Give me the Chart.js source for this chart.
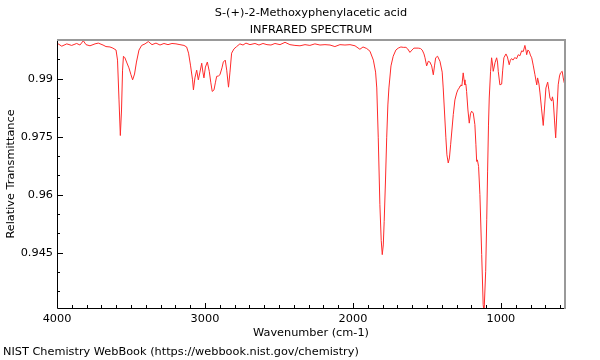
<!DOCTYPE html>
<html>
<head>
<meta charset="utf-8">
<script src="https://cdn.jsdelivr.net/npm/chart.js@4"></script>
<style>
  html, body { margin: 0; padding: 0; background: #fff; }
</style>
</head>
<body>
<canvas id="ir-chart" width="600" height="360"></canvas>
<script>
const titleLines = ['S-(+)-2-Methoxyphenylacetic acid', 'INFRARED SPECTRUM']
const footerText = 'NIST Chemistry WebBook (https://webbook.nist.gov/chemistry)'

// wavenumber (cm-1)
const wavenumber = [
    4000, 3968, 3934, 3901, 3867, 3845, 3822, 3804, 3777, 3743,
    3721, 3689, 3669, 3642, 3622, 3601, 3591, 3581, 3572, 3564,
    3557, 3551, 3541, 3530, 3514, 3500, 3489, 3476, 3463, 3446,
    3428, 3405, 3383, 3358, 3331, 3304, 3277, 3250, 3223, 3196,
    3169, 3142, 3124, 3111, 3098, 3084, 3078, 3068, 3056, 3045,
    3034, 3022, 3014, 3007, 2997, 2984, 2971, 2961, 2951, 2939,
    2929, 2921, 2909, 2899, 2885, 2876, 2863, 2853, 2841, 2831,
    2820, 2804, 2786, 2764, 2743, 2723, 2696, 2662, 2635, 2608,
    2581, 2554, 2527, 2493, 2459, 2426, 2392, 2358, 2324, 2291,
    2257, 2223, 2189, 2155, 2122, 2088, 2054, 2020, 1986, 1953,
    1932, 1907, 1885, 1862, 1847, 1839, 1829, 1818, 1809, 1802,
    1795, 1789, 1780, 1772, 1764, 1757, 1743, 1728, 1710, 1694,
    1676, 1660, 1642, 1630, 1615, 1601, 1588, 1559, 1544, 1532,
    1520, 1513, 1502, 1491, 1480, 1468, 1457, 1449, 1441, 1428,
    1412, 1397, 1390, 1382, 1372, 1365, 1356, 1348, 1340, 1322,
    1311, 1299, 1291, 1282, 1276, 1270, 1264, 1255, 1249, 1243,
    1237, 1232, 1223, 1214, 1206, 1198, 1187, 1176, 1169, 1164,
    1159, 1151, 1142, 1130, 1120, 1114, 1103, 1096, 1090, 1084,
    1079, 1070, 1063, 1057, 1052, 1040, 1029, 1023, 1018, 1007,
    995, 988, 980, 966, 956, 944, 936, 928, 919, 905,
    895, 883, 872, 860, 849, 838, 831, 826, 818, 809,
    801, 792, 781, 770, 758, 752, 743, 736, 726, 714,
    704, 696, 684, 676, 669, 657, 652, 646, 638, 630,
    621, 613, 604, 597, 586, 579, 572, 562
]

const transmittance = [
    0.9992, 0.9984, 0.9990, 0.9986, 0.9991, 0.9987, 0.9998, 0.9988, 0.9985, 0.9990,
    0.9992, 0.9987, 0.9983, 0.9982, 0.9979, 0.9974, 0.9948, 0.9845, 0.9753, 0.9819,
    0.9922, 0.9958, 0.9954, 0.9943, 0.9928, 0.9910, 0.9897, 0.9912, 0.9943, 0.9974,
    0.9986, 0.9990, 0.9996, 0.9988, 0.9992, 0.9987, 0.9991, 0.9988, 0.9991, 0.9990,
    0.9988, 0.9986, 0.9982, 0.9966, 0.9935, 0.9897, 0.9871, 0.9902, 0.9922, 0.9897,
    0.9917, 0.9940, 0.9917, 0.9902, 0.9930, 0.9943, 0.9919, 0.9891, 0.9867, 0.9871,
    0.9891, 0.9906, 0.9907, 0.9910, 0.9928, 0.9943, 0.9948, 0.9922, 0.9878, 0.9917,
    0.9966, 0.9977, 0.9983, 0.9990, 0.9987, 0.9992, 0.9988, 0.9991, 0.9987, 0.9991,
    0.9988, 0.9987, 0.9991, 0.9988, 0.9994, 0.9988, 0.9986, 0.9985, 0.9988, 0.9986,
    0.9990, 0.9987, 0.9988, 0.9987, 0.9983, 0.9988, 0.9987, 0.9988, 0.9985, 0.9976,
    0.9982, 0.9978, 0.9971, 0.9948, 0.9917, 0.9876, 0.9747, 0.9574, 0.9482, 0.9445,
    0.9470, 0.9531, 0.9638, 0.9747, 0.9832, 0.9876, 0.9933, 0.9958, 0.9974, 0.9979,
    0.9982, 0.9981, 0.9981, 0.9977, 0.9968, 0.9974, 0.9979, 0.9979, 0.9978, 0.9974,
    0.9964, 0.9954, 0.9933, 0.9945, 0.9943, 0.9933, 0.9910, 0.9933, 0.9954, 0.9958,
    0.9945, 0.9917, 0.9876, 0.9819, 0.9747, 0.9703, 0.9682, 0.9695, 0.9729, 0.9807,
    0.9845, 0.9863, 0.9871, 0.9876, 0.9881, 0.9884, 0.9881, 0.9915, 0.9897, 0.9884,
    0.9886, 0.9867, 0.9819, 0.9785, 0.9809, 0.9816, 0.9811, 0.9781, 0.9729, 0.9686,
    0.9690, 0.9673, 0.9600, 0.9445, 0.9316, 0.9297, 0.9402, 0.9535, 0.9661, 0.9780,
    0.9850, 0.9919, 0.9954, 0.9938, 0.9919, 0.9941, 0.9954, 0.9943, 0.9919, 0.9884,
    0.9886, 0.9922, 0.9954, 0.9964, 0.9956, 0.9936, 0.9948, 0.9952, 0.9948, 0.9955,
    0.9951, 0.9962, 0.9959, 0.9972, 0.9970, 0.9986, 0.9974, 0.9962, 0.9974, 0.9971,
    0.9961, 0.9954, 0.9933, 0.9910, 0.9884, 0.9902, 0.9886, 0.9863, 0.9824, 0.9779,
    0.9832, 0.9876, 0.9891, 0.9871, 0.9850, 0.9842, 0.9853, 0.9842, 0.9793, 0.9747,
    0.9819, 0.9884, 0.9907, 0.9915, 0.9919, 0.9902, 0.9889, 0.9893
]

const xTickLabels = [4000, 3000, 2000, 1000]
const yTickLabels = [0.99, 0.975, 0.96, 0.945]

const fontFamily = "'DejaVu Sans', sans-serif"
const fontSize = 11.3

Chart.defaults.font.family = fontFamily
Chart.defaults.font.size = fontSize
Chart.defaults.color = '#000'

// inward tick marks, frame, title and footer
const frameAndTicks = {
    id: 'frameAndTicks',
    afterDatasetsDraw(chart) {
        const ctx = chart.ctx
        const a = chart.chartArea
        const x = chart.scales.x
        const y = chart.scales.y
        ctx.save()
        ctx.lineWidth = 1
        ctx.strokeStyle = '#000'
        ctx.beginPath()
        for (let w = 600; w <= 4000; w += 100) {
            const px = Math.round(x.getPixelForValue(w)) + 0.5
            const len = w % 1000 === 0 ? 5 : 3
            ctx.moveTo(px, a.bottom)
            ctx.lineTo(px, a.bottom - len)
        }
        for (let k = 0; k <= 13; k++) {
            const v = 0.935 + k * 0.005
            if (v > y.max) continue
            const py = Math.round(y.getPixelForValue(v)) + 0.5
            const major = yTickLabels.some(t => Math.abs(t - v) < 1e-6)
            ctx.moveTo(a.left, py)
            ctx.lineTo(a.left + (major ? 6 : 3), py)
        }
        ctx.stroke()

        // left and bottom axis lines
        ctx.beginPath()
        ctx.moveTo(a.left + 0.5, a.top)
        ctx.lineTo(a.left + 0.5, a.bottom + 0.5)
        ctx.lineTo(a.right, a.bottom + 0.5)
        ctx.stroke()

        // top and right in grey
        ctx.strokeStyle = '#999'
        ctx.lineWidth = 2
        ctx.beginPath()
        ctx.moveTo(a.left, a.top)
        ctx.lineTo(a.right, a.top)
        ctx.lineTo(a.right, a.bottom + 1)
        ctx.stroke()

        ctx.fillStyle = '#000'
        ctx.font = fontSize + 'px ' + fontFamily
        ctx.textBaseline = 'middle'
        ctx.textAlign = 'center'
        const cx = (a.left + a.right) / 2
        ctx.fillText(titleLines[0], cx, 13)
        ctx.fillText(titleLines[1], cx, 30)
        ctx.textAlign = 'left'
        ctx.fillText(footerText, 3, 352)
        ctx.restore()
    }
}

const irCanvas = document.getElementById('ir-chart')

let irData = {
    datasets: [{
        label: 'IR',
        data: wavenumber.map((w, i) => ({ x: w, y: transmittance[i] })),
        borderColor: '#ff2a2a',
        borderWidth: 1,
        pointRadius: 0,
        tension: 0,
        fill: false
    }]
}

let irOptions = {
    responsive: false,
    animation: false,
    layout: { padding: { top: 40, right: 35, bottom: 20, left: 0 } },
    plugins: {
        legend: { display: false },
        tooltip: { enabled: false }
    },
    scales: {
        x: {
            type: 'linear',
            reverse: true,
            min: 567,
            max: 4000,
            grid: { display: false, drawTicks: false },
            border: { display: false },
            afterBuildTicks: s => { s.ticks = xTickLabels.map(v => ({ value: v })) },
            afterFit: s => { s.height = 32 },
            ticks: {
                autoSkip: false,
                maxRotation: 0,
                padding: 4,
                callback: v => String(v)
            },
            title: {
                display: true,
                text: 'Wavenumber (cm-1)',
                padding: { top: 0, bottom: 0 }
            }
        },
        y: {
            type: 'linear',
            min: 0.9307,
            max: 1.0,
            grid: { display: false, drawTicks: false },
            border: { display: false },
            afterBuildTicks: s => { s.ticks = yTickLabels.map(v => ({ value: v })) },
            afterFit: s => { s.width = 57 },
            ticks: {
                autoSkip: false,
                padding: 4,
                callback: v => String(v)
            },
            title: {
                display: true,
                text: 'Relative Transmittance',
                padding: { top: 4, bottom: 4 }
            }
        }
    }
}

let irChart = new Chart(irCanvas, {
    type: 'line',
    data: irData,
    options: irOptions,
    plugins: [frameAndTicks]
})
</script>
</body>
</html>
